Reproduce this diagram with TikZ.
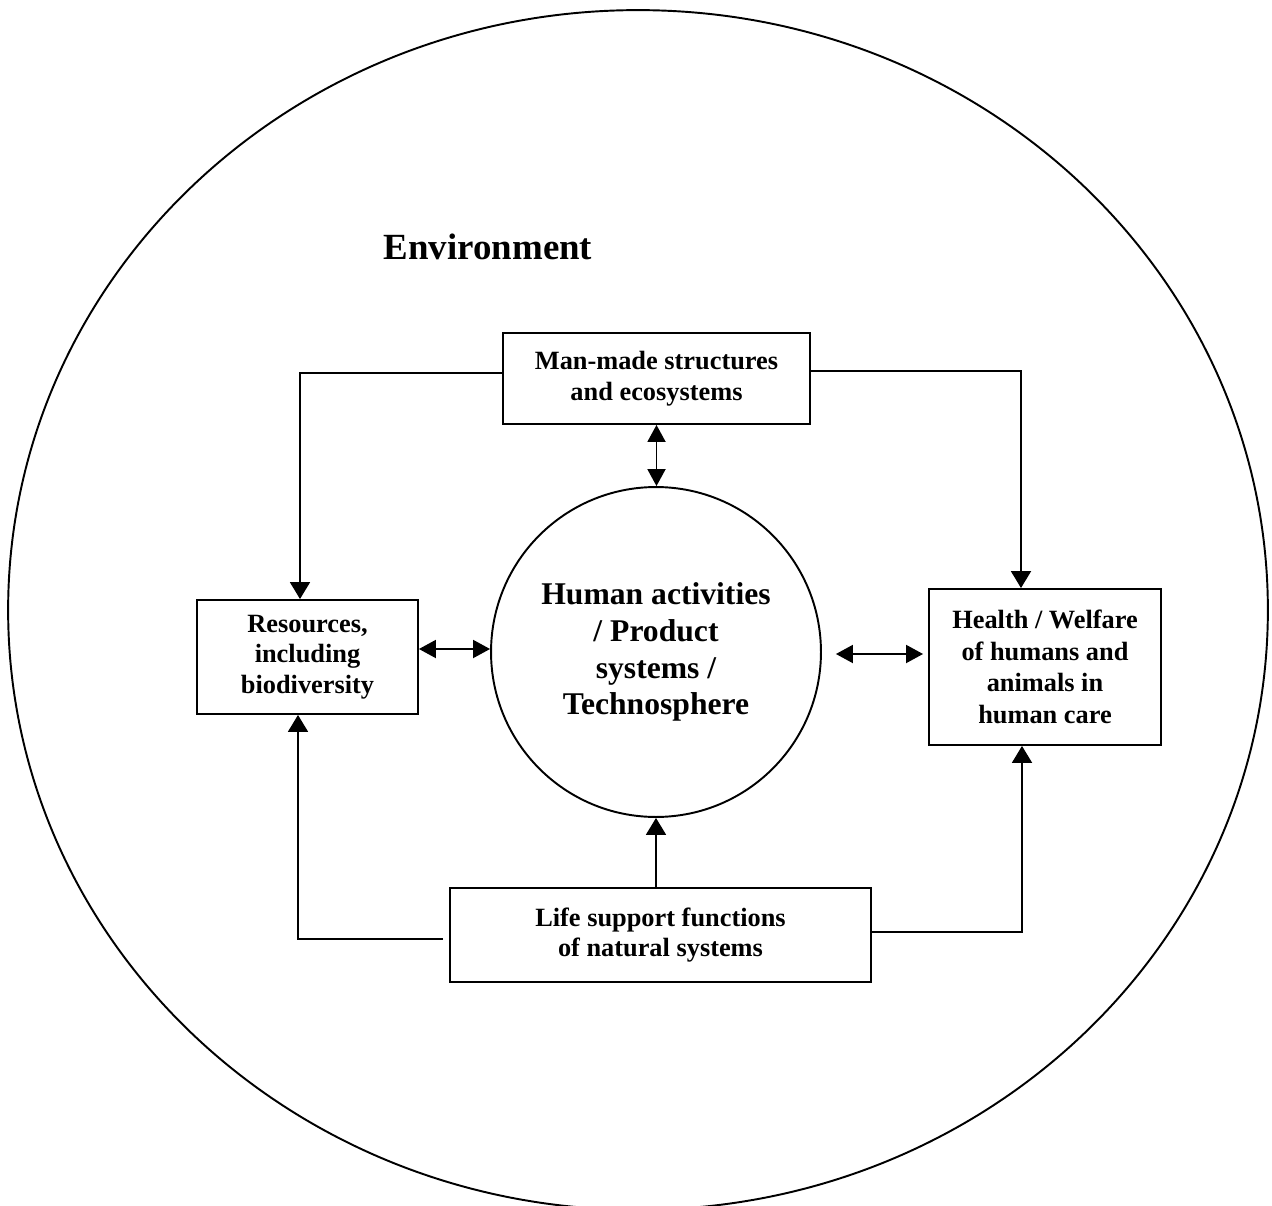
\documentclass[tikz,border=0pt]{standalone}
\usepackage{fontspec}
\setmainfont{Liberation Serif}
\usetikzlibrary{arrows.meta}
\begin{document}
\begin{tikzpicture}[x=0.02cm,y=-0.02cm,
  line width=1.1pt,
  box/.style={draw,rectangle,inner sep=0pt,align=center,font=\bfseries\fontsize{15}{17.5}\selectfont},
  arr/.style={-{Triangle[length=0.34cm,width=0.4cm]}},
  darr/.style={{Triangle[length=0.34cm,width=0.36cm]}-{Triangle[length=0.34cm,width=0.36cm]}}]
\clip (0,0) rectangle (1272,1206);
\fill[white] (0,0) rectangle (1272,1206);
\draw (638,610) ellipse [x radius=12.6cm, y radius=12cm];
\node[font=\bfseries\fontsize{21}{25}\selectfont] (env) at (488,247) {Environment};
\node[box,minimum width=6.14cm,minimum height=1.82cm] (mm) at (656.5,378.5) {Man-made structures\\and ecosystems};
\node[box,minimum width=4.42cm,minimum height=2.28cm] (res) at (307.5,657) {Resources,\\including\\biodiversity};
\node[box,minimum width=4.64cm,minimum height=3.12cm,font=\bfseries\fontsize{15}{18}\selectfont] (hw) at (1045,667) {Health / Welfare\\of humans and\\animals in\\human care};
\node[box,minimum width=8.42cm,minimum height=1.88cm] (life) at (660.5,935) {Life support functions\\of natural systems};
\node[draw,circle,minimum size=6.6cm,inner sep=0pt,align=center,font=\bfseries\fontsize{18}{21}\selectfont] (circ) at (656,652) {Human activities\\/ Product\\systems /\\Technosphere};
\coordinate (mmL) at (300,373);
\coordinate (mmR) at (1021,371);
\coordinate (lfL) at (298,939);
\coordinate (lfR) at (1022,932);
\draw[arr] (mm.west |- mmL) -- (mmL) -- (mmL |- res.north);
\draw[arr] (mm.east |- mmR) -- (mmR) -- (mmR |- hw.north);
\draw[darr] (mm.south) -- (mm.south |- circ.north);
\draw[darr] (res.east |- 0,649) -- (circ.west |- 0,649);
\draw[darr,shorten <=14*0.02cm,shorten >=5*0.02cm] (circ.east |- 0,654) -- (hw.west |- 0,654);
\draw[arr] (life.north -| circ.south) -- (circ.south);
\draw[arr] ([xshift=-0.12cm]life.west |- lfL) -- (lfL) -- (lfL |- res.south);
\draw[arr] (life.east |- lfR) -- (lfR) -- (lfR |- hw.south);
\end{tikzpicture}
\end{document}
